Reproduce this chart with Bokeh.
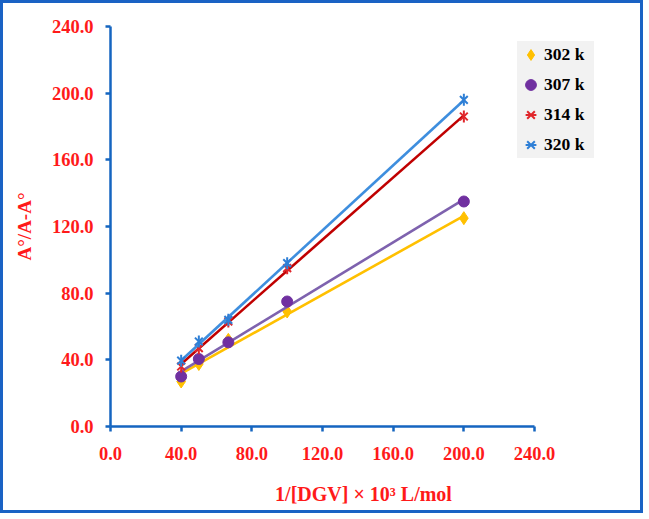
import numpy as np
from bokeh.plotting import figure
from bokeh.models import Range1d, FixedTicker, CustomJSTickFormatter, Legend, LegendItem
from bokeh.embed import file_html
from bokeh.resources import INLINE

# data
x_vals = [40.0, 50.0, 66.7, 100.0, 200.0]
s302 = [27.0, 37.5, 52.0, 69.0, 125.0]
s307 = [30.0, 40.5, 50.5, 75.0, 135.0]
s314 = [36.0, 47.0, 63.0, 95.0, 186.0]
s320 = [39.5, 51.0, 64.0, 98.0, 196.0]
series_names = ["302 k", "307 k", "314 k", "320 k"]
x_ticks = [0, 40, 80, 120, 160, 200, 240]
y_ticks = [0, 40, 80, 120, 160, 200, 240]

RED = "#FF1A1A"
AXIS = "#1565C0"
FONT = "Liberation Serif"

# frame extends beyond 240 on the right so the legend can sit over it;
# the x axis itself is bounded to 0..240
p = figure(width=643, height=513, output_backend="svg", toolbar_location=None,
           x_range=Range1d(0, 286.4), y_range=Range1d(0, 240),
           min_border_left=107, min_border_right=30, min_border_top=23, min_border_bottom=90)
p.styles = {"border": "3px solid #1A62C4"}
p.outline_line_color = None
p.grid.grid_line_color = None
p.background_fill_color = "white"
p.border_fill_color = "white"

for ax, ticks in ((p.xaxis, x_ticks), (p.yaxis, y_ticks)):
    ax.ticker = FixedTicker(ticks=ticks)
    ax.formatter = CustomJSTickFormatter(code="return tick.toFixed(1);")
    ax.bounds = (0, 240)
    ax.axis_line_color = AXIS
    ax.axis_line_width = 2.5
    ax.major_tick_line_color = AXIS
    ax.major_tick_line_width = 2.5
    ax.major_tick_in = 0
    ax.major_tick_out = 5
    ax.minor_tick_line_color = None
    ax.major_label_text_color = RED
    ax.major_label_text_font = FONT
    ax.major_label_text_font_style = "bold"
    ax.major_label_text_font_size = "18.5px"
    ax.axis_label_text_color = RED
    ax.axis_label_text_font = FONT
    ax.axis_label_text_font_style = "bold"

p.xaxis.axis_label = "1/[DGV] × 10³ L/mol"
p.yaxis.axis_label = "A°/A-A°"
p.xaxis.axis_label_text_font_size = "20px"
p.yaxis.axis_label_text_font_size = "19px"
p.xaxis.major_label_standoff = 15
p.yaxis.major_label_standoff = 12
p.xaxis.axis_label_standoff = 20
p.yaxis.axis_label_standoff = 14

xs = np.array(x_vals)
line_colors = ["#FFC000", "#7E62AE", "#C00000", "#3E8EDE"]
marker_colors = ["#FFC000", "#7030A0", "#E0262B", "#2E7FD6"]
data = [s302, s307, s314, s320]

items = []
for name, ys, lc, mc in zip(series_names, data, line_colors, marker_colors):
    ys = np.array(ys)
    m, b = np.polyfit(xs, ys, 1)
    lx = np.array([xs.min(), xs.max()])
    p.line(lx, m * lx + b, line_color=lc, line_width=2.6)
    rs = []
    if name == "302 k":
        rs.append(p.scatter(xs, ys, marker="diamond", size=13, fill_color=mc, line_color=mc))
    elif name == "307 k":
        rs.append(p.scatter(xs, ys, marker="circle", size=11, fill_color=mc, line_color=mc))
    else:
        rs.append(p.scatter(xs, ys, marker="x", size=11, line_color=mc, line_width=2))
        rs.append(p.scatter(xs, ys, marker="dash", size=12, angle=np.pi / 2, line_color=mc, line_width=2))
    items.append(LegendItem(label=name, renderers=rs))

legend = Legend(items=items, location=(407, 268))
legend.background_fill_color = "#F2F2F2"
legend.background_fill_alpha = 1.0
legend.border_line_color = None
legend.label_text_font = FONT
legend.label_text_font_style = "bold"
legend.label_text_font_size = "17.5px"
legend.label_text_color = "black"
legend.glyph_width = 27
legend.glyph_height = 27
legend.label_height = 27
legend.label_width = 50
legend.label_standoff = -5
legend.spacing = 3
legend.padding = 2
legend.margin = 0
p.add_layout(legend, "center")

open("out.html", "w").write(file_html(p, INLINE))
